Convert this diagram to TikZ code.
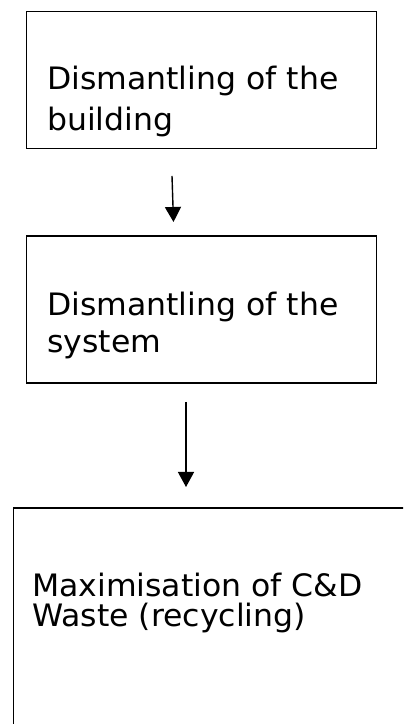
\documentclass[tikz,border=0pt]{standalone}
\usepackage{fontspec}
\setmainfont[FakeStretch=1.02]{DejaVu Sans}
\usetikzlibrary{arrows.meta}
\begin{document}
\begin{tikzpicture}[x=1bp,y=1bp,
  boxstyle/.style={draw=black, line width=1.8bp, inner sep=0pt, fill=none},
  txt/.style={anchor=base west, inner sep=0pt, font=\fontsize{31}{37}\selectfont, text=black},
  conn/.style={line width=1.4bp, -{Triangle[length=15bp,width=16bp]}}]
\useasboundingbox (0,0) rectangle (403,724);
\fill[white] (0,0) rectangle (403,724);
% boxes
\node[boxstyle, minimum width=350bp, minimum height=137bp] (b1) at (201.5,644) {};
\node[boxstyle, minimum width=350bp, minimum height=147bp] (b2) at (201.5,414.5) {};
\begin{scope}
\clip (0,0) rectangle (403,724);
\node[boxstyle, minimum width=420bp, minimum height=260bp, anchor=north west] (b3) at (12.5,217) {};
\end{scope}
% texts
\node[txt] (t1a) at (47,634) {Dismantling of the};
\node[txt] (t1b) at (47,593) {building};
\node[txt] (t2a) at (47,408) {Dismantling of the};
\node[txt] (t2b) at (47,371) {system};
\node[txt] (t3a) at (32,127) {Maximisation of C\&D};
\node[txt] (t3b) at (32,97) {Waste (recycling)};
% connectors
\coordinate (a1s) at (172,548);
\coordinate (a1e) at (173.5,502);
\coordinate (a2s) at (186,322);
\coordinate (a2e) at (186,237);
\draw[conn] (a1s) -- (a1e);
\draw[conn] (a2s) -- (a2e);
\end{tikzpicture}
\end{document}
